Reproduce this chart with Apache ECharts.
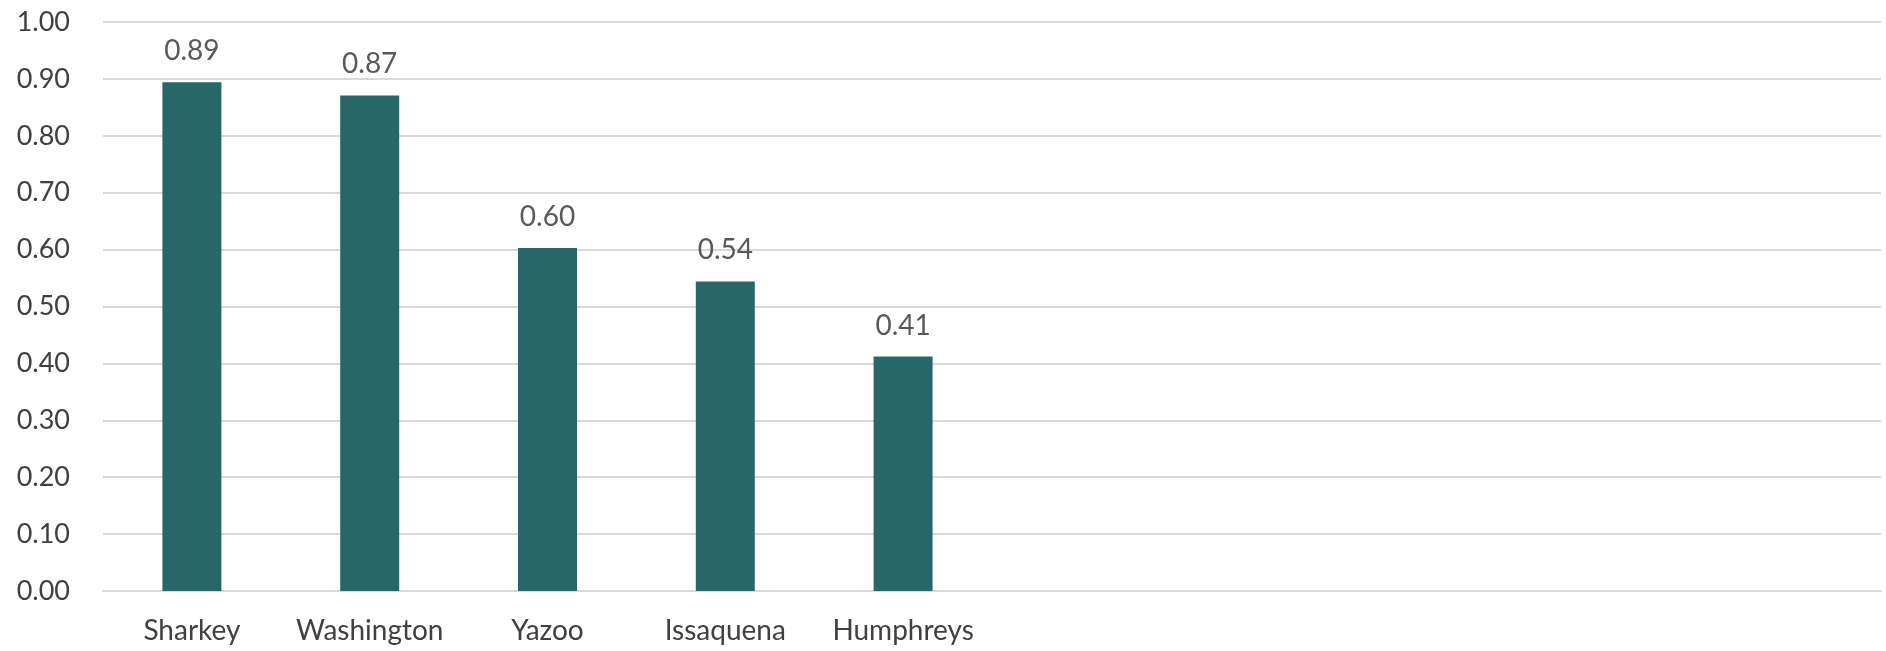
<!DOCTYPE html>
<html>
<head>
<meta charset="utf-8">
<script src="https://cdn.jsdelivr.net/npm/echarts@6/dist/echarts.min.js"></script>
<style>
  html, body { margin: 0; padding: 0; background: #ffffff; }
  #chart { width: 1886px; height: 651px; }
</style>
</head>
<body>
<div id="chart"></div>
<script>
// Data
const counties = ['Sharkey', 'Washington', 'Yazoo', 'Issaquena', 'Humphreys'];
const values = [0.894, 0.871, 0.603, 0.544, 0.412];
const emptySlots = ['', '', '', '', ''];           // blank category rows in the source chart
const yTicks = [0, 0.1, 0.2, 0.3, 0.4, 0.5, 0.6, 0.7, 0.8, 0.9, 1.0];

const categories = counties.concat(emptySlots);
const seriesData = values.concat(emptySlots.map(() => null));

const chart = echarts.init(document.getElementById('chart'));
chart.setOption({
  animation: false,
  backgroundColor: '#ffffff',
  grid: { left: 103, right: 5, top: 22, bottom: 60, containLabel: false },
  xAxis: {
    type: 'category',
    data: categories,
    axisLine: { show: true, lineStyle: { color: '#d9d9d9', width: 2 } },
    axisTick: { show: false },
    axisLabel: { color: '#404040', fontFamily: 'Lato', fontSize: 28, margin: 26, interval: 0 }
  },
  yAxis: {
    type: 'value',
    min: yTicks[0],
    max: yTicks[yTicks.length - 1],
    interval: 0.1,
    axisLine: { show: false },
    axisTick: { show: false },
    splitLine: { lineStyle: { color: '#d9d9d9', width: 2 } },
    axisLabel: {
      color: '#404040', fontFamily: 'Lato', fontSize: 27, margin: 33,
      formatter: v => v.toFixed(2)
    }
  },
  series: [{
    type: 'bar',
    data: seriesData,
    barWidth: 59,
    itemStyle: { color: '#27676a' },
    label: {
      show: true, position: 'top', distance: 17,
      color: '#595959', fontFamily: 'Lato', fontSize: 28,
      formatter: p => p.value == null ? '' : p.value.toFixed(2)
    }
  }]
});
</script>
</body>
</html>
